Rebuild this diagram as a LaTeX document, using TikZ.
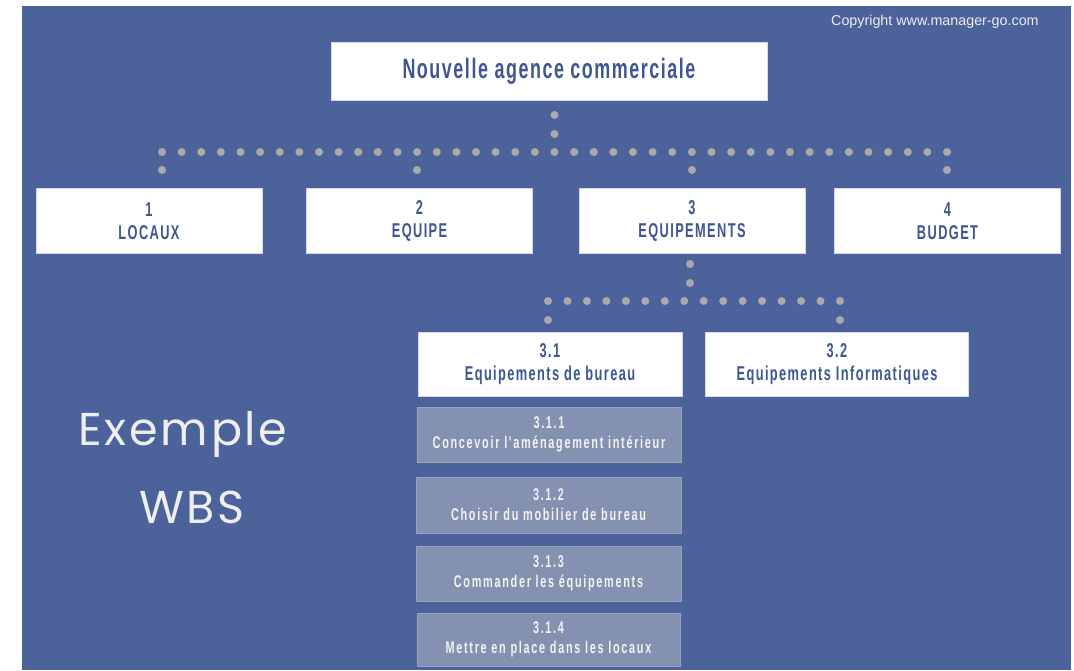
\documentclass[tikz,border=0pt]{standalone}
\usepackage{fontspec}
\setmainfont{Liberation Sans}
\newfontfamily\rootfont[FakeStretch=0.64,LetterSpace=5.5]{Liberation Sans}
\newfontfamily\condfont[FakeStretch=0.64,LetterSpace=7]{Liberation Sans}
\newfontfamily\greyfont[FakeStretch=0.64,LetterSpace=10]{Liberation Sans}
\newfontfamily\handfont[LetterSpace=6]{Poppins}
\definecolor{bgblue}{HTML}{4C629B}
\definecolor{navytxt}{HTML}{3F5690}
\definecolor{greybox}{HTML}{8591B0}
\definecolor{greyedge}{HTML}{97A2BE}
\definecolor{greytxt}{HTML}{F2F2F2}
\definecolor{dotc}{HTML}{AAAAAA}
\definecolor{wedge}{HTML}{D3D9E6}
\definecolor{handc}{HTML}{EEEEEE}
\tikzset{
  wbox/.style={fill=white, draw=wedge, line width=0.8pt, inner sep=0pt, align=center,
    text=navytxt, font=\condfont\bfseries\fontsize{20}{23}\selectfont},
  rootbox/.style={wbox, font=\rootfont\bfseries\fontsize{28}{30}\selectfont},
  gbox/.style={fill=greybox, draw=greyedge, line width=0.8pt, inner sep=0pt, align=center,
    text=greytxt, font=\greyfont\bfseries\fontsize{17}{20}\selectfont},
  dotmark/.style={fill=dotc}
}
\begin{document}
\begin{tikzpicture}[x=1pt,y=-1pt]
\useasboundingbox (0,0) rectangle (1074,670);
\fill[white] (0,0) rectangle (1074,670);
\fill[bgblue] (22,6) rectangle (1071,670);

% copyright
\node[anchor=base west, inner sep=0pt, text=handc, font=\fontsize{14.3}{16}\selectfont] (copy) at (831,25) {Copyright www.manager-go.com};

% root
\node[rootbox, minimum width=436pt, minimum height=58pt] (root) at (549,71) {Nouvelle agence commerciale};

% level 1
\node[wbox, minimum width=226pt, minimum height=65pt] (b1) at (149,221) {1\\LOCAUX};
\node[wbox, minimum width=226pt, minimum height=65pt] (b2) at (419.5,221) {2\\EQUIPE};
\node[wbox, minimum width=226pt, minimum height=65pt] (b3) at (692,221) {3\\EQUIPEMENTS};
\node[wbox, minimum width=226pt, minimum height=65pt] (b4) at (947.5,221) {4\\BUDGET};

% level 2
\node[wbox, minimum width=264pt, minimum height=64pt] (b31) at (550,364) {3.1\\Equipements de bureau};
\node[wbox, minimum width=263pt, minimum height=64pt] (b32) at (837,364) {3.2\\Equipements Informatiques};

% level 3
\node[gbox, minimum width=264pt, minimum height=55pt] (b311) at (549,434.5) {3.1.1\\Concevoir l'aménagement intérieur};
\node[gbox, minimum width=265pt, minimum height=56pt] (b312) at (548.5,505) {3.1.2\\Choisir du mobilier de bureau};
\node[gbox, minimum width=265pt, minimum height=55pt] (b313) at (548.5,573.5) {3.1.3\\Commander les équipements};
\node[gbox, minimum width=263pt, minimum height=53pt] (b314) at (548.5,639.5) {3.1.4\\Mettre en place dans les locaux};

% title
\node[anchor=base, inner sep=0pt, text=handc, font=\handfont\fontsize{46}{50}\selectfont] (t1) at (183,445) {Exemple};
\node[anchor=base, inner sep=0pt, text=handc, font=\handfont\fontsize{46}{50}\selectfont] (t2) at (192,523) {WBS};

% dotted connectors level 1
\foreach \y in {115,134} \fill[dotmark] (554.5,\y) circle (4pt);
\foreach \i in {0,...,40} \fill[dotmark] ({162+19.625*\i},152) circle (4pt);
\foreach \x in {162,417,692,947} \fill[dotmark] (\x,170) circle (4pt);

% dotted connectors level 2
\foreach \y in {264,283} \fill[dotmark] (690,\y) circle (4pt);
\foreach \i in {0,...,15} \fill[dotmark] ({548+19.467*\i},301) circle (4pt);
\foreach \x in {548,840} \fill[dotmark] (\x,320) circle (4pt);
\end{tikzpicture}
\end{document}
